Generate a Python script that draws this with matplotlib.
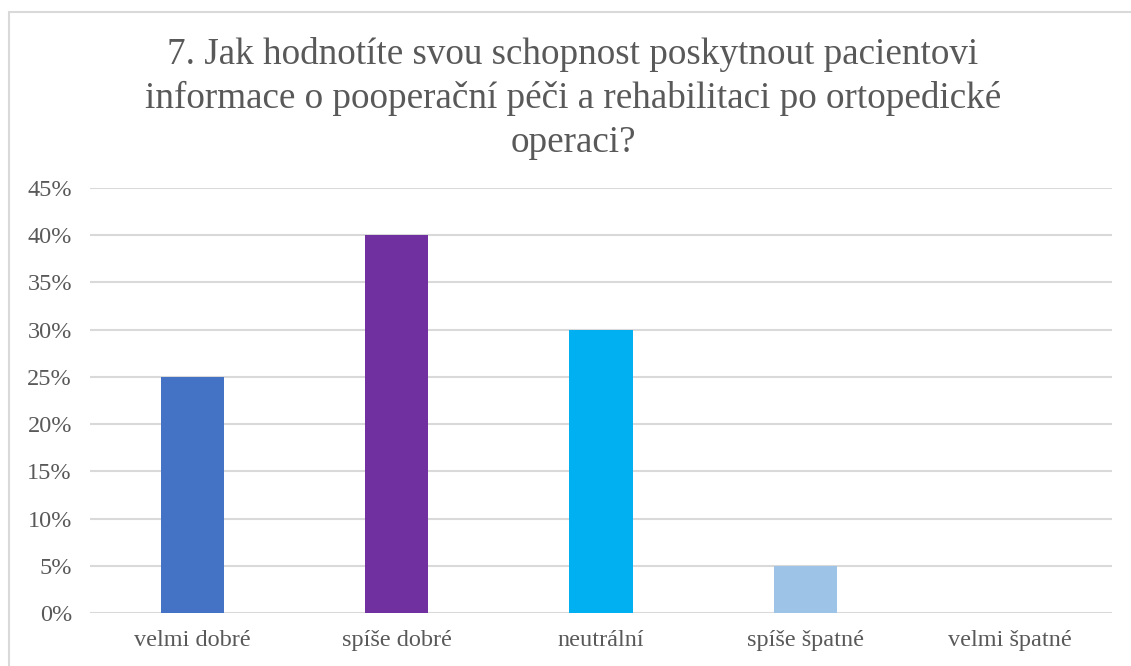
import numpy as np
import matplotlib.pyplot as plt
from matplotlib import font_manager
from matplotlib.patches import Rectangle
from matplotlib.ticker import PercentFormatter

categories = ['velmi dobré', 'spíše dobré', 'neutrální', 'spíše špatné', 'velmi špatné']
values = [25, 40, 30, 5, 0]
colors = ['#4472C4', '#7030A0', '#00B0F0', '#9DC3E6', '#A5A5A5']
title = ('7. Jak hodnotíte svou schopnost poskytnout pacientovi\n'
         'informace o pooperační péči a rehabilitaci po ortopedické\n'
         'operaci?')

plt.rcParams['font.family'] = 'Liberation Serif'
text_color = '#595959'
grid_color = '#D9D9D9'

serif_file = font_manager.findfont(font_manager.FontProperties(family='Liberation Serif'))
title_font = font_manager.FontProperties(fname=serif_file, size=26.75)

W, H = 1131, 666
fig = plt.figure(figsize=(W / 100, H / 100), dpi=100)

# chart border (only top and left are inside the picture)
fig.patches.append(Rectangle((9 / W, -0.1), 1.2, 1 - 12 / H + 0.1, transform=fig.transFigure,
                             fill=False, edgecolor=grid_color, linewidth=1.5))

ax = fig.add_axes([90 / W, 1 - 613 / H, (1112 - 90) / W, (613 - 188) / H])
x = np.arange(len(categories))
ax.bar(x, values, width=0.31, color=colors, zorder=3)

ax.set_xlim(-0.5, len(categories) - 0.5)
ax.set_ylim(0, 45)
ax.set_yticks(np.arange(0, 46, 5))
ax.yaxis.set_major_formatter(PercentFormatter(decimals=0))
ax.set_xticks(x)
ax.set_xticklabels(categories)
ax.grid(axis='y', color=grid_color, linewidth=1.5, zorder=0)
for s in ax.spines.values():
    s.set_visible(False)
ax.tick_params(axis='both', length=0, labelsize=17.5, colors=text_color)
ax.tick_params(axis='y', pad=13)
ax.tick_params(axis='x', pad=12)

fig.text(573 / W, 1 - 37 / H, title, ha='center', va='top',
         fontproperties=title_font, color=text_color, linespacing=1.34)

plt.savefig('out.png', dpi=100)
plt.close()
